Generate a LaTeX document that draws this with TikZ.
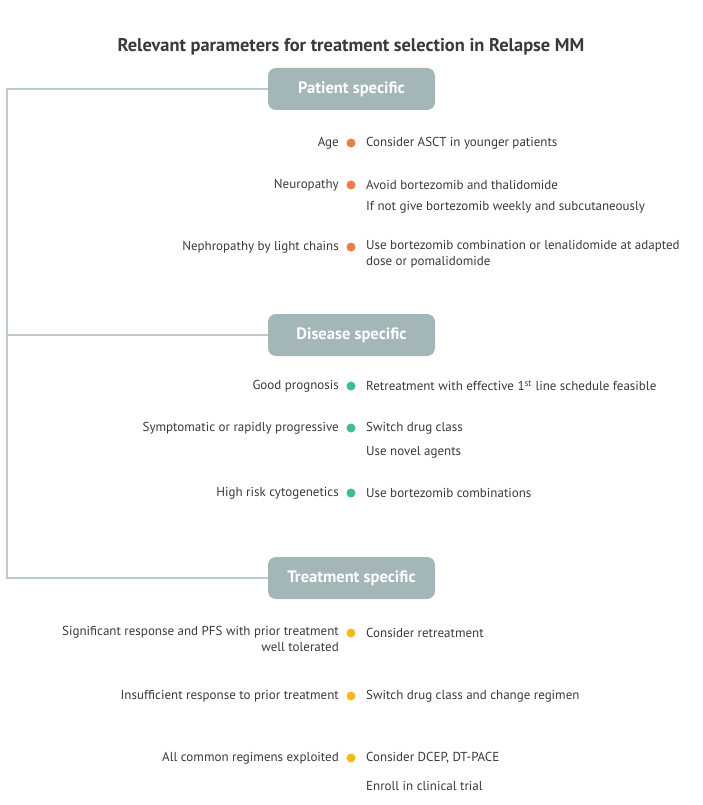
\documentclass[tikz,border=0pt]{standalone}
\usepackage{fontspec}
\setmainfont{PT Sans}
\usepackage{tikz}
\usetikzlibrary{positioning}

\definecolor{boxgray}{HTML}{A3B7B8}
\definecolor{linegray}{HTML}{BCCBCB}
\definecolor{txtgray}{HTML}{3A3A3A}
\definecolor{dotorange}{HTML}{F07A4B}
\definecolor{dotgreen}{HTML}{3DBE8F}
\definecolor{dotyellow}{HTML}{F6B81A}

\tikzset{
  groupbox/.style={fill=boxgray, rounded corners=8pt, minimum width=167pt,
    minimum height=42pt, text=white, font=\fontsize{16.5}{20}\selectfont\bfseries},
  param/.style={anchor=east, inner sep=0pt, text=txtgray, align=right,
    font=\fontsize{13}{16}\selectfont},
  advice/.style={anchor=west, inner sep=0pt, text=txtgray, align=left,
    font=\fontsize{13}{16}\selectfont},
  bullet/.style={circle, inner sep=0pt, minimum size=9pt}
}

\begin{document}
\begin{tikzpicture}[x=1pt, y=-1pt]
    \useasboundingbox (0,0) rectangle (703,805);

    % title
    \node[text=txtgray, font=\fontsize{18.4}{22}\selectfont\bfseries] (title) at (351,47)
      {Relevant parameters for treatment selection in Relapse MM};

    % group boxes
    \node[groupbox] (patient) at (351.5,89) {Patient specific};
    \node[groupbox] (disease) at (351.5,335) {Disease specific};
    \node[groupbox] (treatment) at (351.5,578) {Treatment specific};

    % bracket
    \coordinate (brtop) at (7,89);
    \coordinate (brbot) at (7,578);
    \draw[linegray, line width=1.5pt] (patient.west) -- (brtop) -- (brbot) -- (treatment.west);
    \draw[linegray, line width=1.5pt] (disease.west) -- (disease.west -| brtop);

    % patient specific
    \node[param] (age) at (339,143) {Age};
    \node[bullet, fill=dotorange] (agedot) at (351,143) {};
    \node[advice] (agetxt) at (366,143) {Consider ASCT in younger patients};

    \node[param] (neuro) at (339,185) {Neuropathy};
    \node[bullet, fill=dotorange] (neurodot) at (351,185) {};
    \node[advice] (neurotxt) at (366,185) {Avoid bortezomib and thalidomide};
    \node[advice] (neurotxt2) at (366,207) {If not give bortezomib weekly and subcutaneously};

    \node[param] (nephro) at (339,247) {Nephropathy by light chains};
    \node[bullet, fill=dotorange] (nephrodot) at (351,247) {};
    \node[advice, anchor=north west] (nephrotxt) at (366,240)
      {Use bortezomib combination or lenalidomide at adapted\\dose or pomalidomide};

    % disease specific
    \node[param] (good) at (339,386) {Good prognosis};
    \node[bullet, fill=dotgreen] (gooddot) at (351,386) {};
    \node[advice] (goodtxt) at (366,386) {Retreatment with effective 1\textsuperscript{st} line schedule feasible};

    \node[param] (sympt) at (339,428) {Symptomatic or rapidly progressive};
    \node[bullet, fill=dotgreen] (symptdot) at (351,428) {};
    \node[advice] (sympttxt) at (366,428) {Switch drug class};
    \node[advice] (sympttxt2) at (366,452) {Use novel agents};

    \node[param] (risk) at (339,493) {High risk cytogenetics};
    \node[bullet, fill=dotgreen] (riskdot) at (351,493) {};
    \node[advice] (risktxt) at (366,493) {Use bortezomib combinations};

    % treatment specific
    \node[param, anchor=north east] (signif) at (339,626)
      {Significant response and PFS with prior treatment\\well tolerated};
    \node[bullet, fill=dotyellow] (signifdot) at (351,633) {};
    \node[advice] (signiftxt) at (366,633) {Consider retreatment};

    \node[param] (insuff) at (339,696) {Insufficient response to prior treatment};
    \node[bullet, fill=dotyellow] (insuffdot) at (351,696) {};
    \node[advice] (insufftxt) at (366,696) {Switch drug class and change regimen};

    \node[param] (exploit) at (339,758) {All common regimens exploited};
    \node[bullet, fill=dotyellow] (exploitdot) at (351,758) {};
    \node[advice] (exploittxt) at (366,758) {Consider DCEP, DT-PACE};
    \node[advice] (exploittxt2) at (366,786) {Enroll in clinical trial};
\end{tikzpicture}
\end{document}
